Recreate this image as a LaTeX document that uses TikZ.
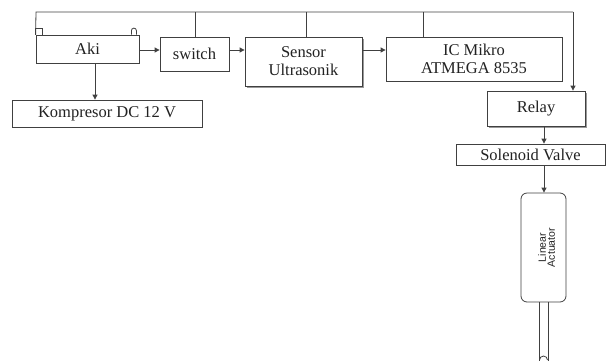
\documentclass[tikz,border=0pt]{standalone}
\usepackage{fontspec}
\setmainfont{Liberation Serif}
\newfontfamily\lasans{Liberation Sans}
\usetikzlibrary{arrows.meta,shadows}
\definecolor{ln}{HTML}{404040}
\definecolor{tx}{HTML}{222222}
\begin{document}
\begin{tikzpicture}[x=1pt,y=-1pt,
  line width=0.8pt,
  box/.style={draw=ln, fill=white, text=tx, inner sep=0pt, align=center,
    font=\fontsize{16.5}{18}\selectfont},
  shbox/.style={box, drop shadow={shadow xshift=2pt, shadow yshift=-2pt, opacity=1, fill=gray!80}},
  wire/.style={draw=ln},
  arr/.style={draw=ln, -{Triangle[length=5pt,width=5pt]}}]
\useasboundingbox (0,0) rectangle (606,360);
% boxes
\node[box, minimum width=103pt, minimum height=28pt] (aki) at (87.5,49) {Aki};
\node[box, minimum width=69pt, minimum height=34pt] (sw) at (194.5,54) {switch};
\node[shbox, minimum width=117pt, minimum height=49pt] (sen) at (303.5,61.5) {Sensor\\Ultrasonik};
\node[box, minimum width=176pt, minimum height=44pt] (ic) at (474,59) {IC Mikro\\ATMEGA 8535};
\node[shbox, minimum width=98pt, minimum height=35pt] (rel) at (536,108.5) {Relay};
\node[box, minimum width=190pt, minimum height=27pt] (komp) at (107,113.5) {Kompresor DC 12 V};
\node[box, minimum width=149pt, minimum height=21pt] (sol) at (530.5,154.5) {Solenoid Valve};
\node[draw=ln, fill=white, rounded corners=6pt, minimum width=45pt, minimum height=109pt, inner sep=0pt] (lin) at (543.5,247.5) {};
\node[rotate=90, text=tx, align=center, inner sep=0pt, font=\lasans\fontsize{10.5}{9}\selectfont] (lintx) at ([xshift=3pt]lin.center) {Linear\\Actuator};
% battery terminals
\draw[wire] (aki.north west) -- ++(0,-6) -- ++(7,0) -- ++(0,6);
\draw[wire] ([xshift=-8pt]aki.north east) -- ++(0,-4) arc[start angle=180,end angle=0,radius=2.5pt] -- ++(0,4);
% top bus
\coordinate (tl) at (36,12);
\coordinate (tr) at (573,12);
\draw[wire] (aki.north west) -- (tl) -- (tr);
\draw[wire] (sw.north -| 195,0) -- (tl -| 195,0);
\draw[wire] (sen.north -| 306,0) -- (tl -| 306,0);
\draw[wire] (ic.north -| 423,0) -- (tl -| 423,0);
\draw[arr] (tr) -- (rel.north -| tr);
% horizontal arrows
\coordinate (h) at (0,50);
\draw[arr] (aki.east |- h) -- (sw.west |- h);
\draw[arr] (sw.east |- h) -- (sen.west |- h);
\draw[arr] (sen.east |- h) -- (ic.west |- h);
% vertical arrows
\coordinate (kx) at (95,0);
\draw[arr] (aki.south -| kx) -- (komp.north -| kx);
\coordinate (vx) at (544,0);
\draw[arr] (rel.south -| vx) -- (sol.north -| vx);
\draw[arr] (sol.south -| vx) -- (lin.north -| vx);
% rod
\coordinate (r1) at (539,0);
\coordinate (r2) at (548,0);
\coordinate (bot) at (0,362);
\draw[wire] (lin.south -| r1) -- (bot -| r1);
\draw[wire] (lin.south -| r2) -- (bot -| r2);
\draw[wire] (539.5,360) arc[start angle=180,end angle=0,radius=4pt];
\end{tikzpicture}
\end{document}
